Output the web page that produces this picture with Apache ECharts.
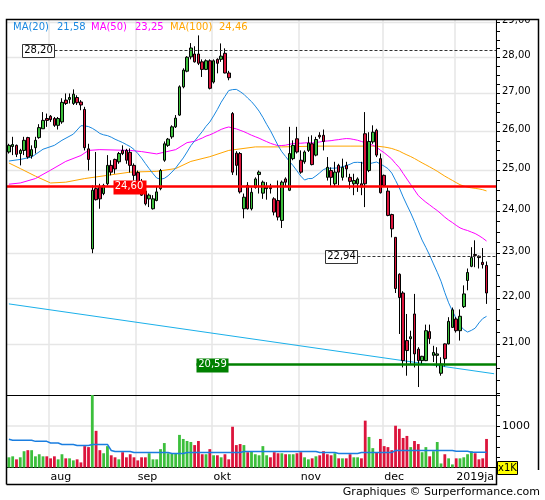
<!DOCTYPE html>
<html><head><meta charset="utf-8">
<script src="https://cdn.jsdelivr.net/npm/echarts@6/dist/echarts.min.js"></script>
<style>html,body{margin:0;padding:0;background:#fff}#c{width:545px;height:500px}</style>
</head><body><div id="c"></div>
<script>
// ---------- data ----------
const startDate = '2018-07-17';
const holidays = ['2018-12-25', '2018-12-26', '2019-01-01'];
const slotCount = 129;
const monthLabels = {'2018-08':'aug','2018-09':'sep','2018-10':'okt','2018-11':'nov','2018-12':'dec','2019-01':'2019ja'};

// [open, high, low, close]
const ohlc = [
[25.46,25.67,25.42,25.63],[25.60,25.85,25.38,25.65],[25.63,25.65,25.33,25.40],[25.42,25.54,25.12,25.50],[25.50,25.85,25.38,25.76],
[25.83,25.85,25.29,25.33],[25.36,25.63,25.29,25.52],[25.57,25.85,25.42,25.76],[25.83,26.18,25.80,26.09],[26.06,26.50,26.06,26.28],
[26.33,26.46,26.11,26.28],[26.39,26.42,26.24,26.30],[26.33,26.37,26.11,26.15],[26.15,26.37,26.04,26.33],[26.24,26.87,26.19,26.76],
[26.82,27.00,26.69,26.73],[26.84,27.00,26.73,26.89],[26.73,27.11,26.69,26.98],[26.89,26.95,26.69,26.75],[26.77,26.82,26.55,26.69],
[26.57,26.64,25.50,25.57],[25.54,25.67,24.99,25.27],[23.10,24.62,23.00,24.50],[24.54,25.46,24.25,24.27],[24.58,24.66,24.05,24.29],
[24.42,24.66,24.38,24.62],[24.66,25.38,24.62,25.12],[25.12,25.25,24.87,24.95],[25.27,25.29,24.91,25.03],[25.21,25.46,25.16,25.42],
[25.50,25.63,25.38,25.42],[25.50,25.54,25.16,25.25],[25.45,25.55,24.94,25.12],[25.12,25.17,24.74,24.87],[24.94,24.99,24.55,24.69],
[24.70,24.78,24.36,24.38],[24.48,24.54,24.13,24.17],[24.29,24.42,24.09,24.38],[24.05,24.38,24.03,24.29],[24.25,24.58,24.23,24.46],
[24.54,25.03,24.50,24.99],[25.25,25.73,25.21,25.67],[25.63,25.82,25.59,25.79],[25.85,26.15,25.80,26.11],[26.11,26.42,26.08,26.34],
[26.42,27.22,26.40,27.18],[27.18,27.69,27.14,27.64],[27.61,28.03,27.58,28.00],[28.01,28.40,27.94,28.26],[28.09,28.31,27.85,27.87],
[28.09,28.62,27.78,27.83],[27.87,27.94,27.45,27.66],[27.66,27.94,27.64,27.90],[27.90,27.94,27.11,27.14],[27.31,27.94,27.27,27.90],
[27.94,27.97,27.55,27.83],[27.94,28.39,27.87,28.03],[28.11,28.25,27.55,27.56],[27.56,27.62,27.36,27.43],[26.46,26.50,24.88,24.95],
[25.43,25.48,24.87,25.12],[25.42,25.46,24.42,24.46],[24.05,24.42,23.82,24.33],[24.62,24.70,24.03,24.05],[24.05,24.57,24.01,24.45],
[24.57,24.82,24.54,24.78],[24.89,24.99,24.42,24.95],[24.43,24.74,24.29,24.70],[24.54,24.70,24.27,24.58],[24.57,24.66,24.42,24.54],
[24.29,24.33,23.89,23.97],[24.25,24.74,23.77,23.85],[23.77,24.74,23.59,24.70],[24.78,24.82,24.58,24.70],[24.50,26.11,24.48,25.42],
[25.29,25.76,25.25,25.63],[25.80,26.11,25.42,25.46],[25.25,25.50,24.91,24.95],[25.21,25.50,25.16,25.46],[25.50,25.85,25.46,25.69],
[25.67,25.89,25.12,25.14],[25.38,25.85,25.35,25.78],[25.89,25.97,25.80,25.85],[25.89,26.04,25.50,25.73],[24.82,25.33,24.74,25.07],
[24.99,25.07,24.58,24.82],[24.66,25.21,24.58,24.95],[25.12,25.16,24.62,24.95],[24.82,25.29,24.74,25.07],[25.12,25.21,24.82,25.03],
[24.82,24.91,24.54,24.72],[24.66,24.91,24.38,24.74],[24.66,24.82,24.46,24.78],[24.66,25.21,24.38,24.58],[25.93,26.50,24.09,24.66],
[24.99,25.97,24.95,25.73],[25.72,26.15,25.67,25.97],[26.02,26.06,25.33,25.38],[25.29,25.42,24.42,24.44],[24.87,24.89,24.58,24.62],
[24.48,24.57,23.87,23.89],[23.91,23.93,23.37,23.57],[23.37,23.37,22.10,22.20],[22.52,22.54,21.21,22.00],[22.10,22.14,20.51,20.65],
[21.07,21.64,20.34,20.86],[21.11,21.28,20.58,21.15],[21.64,22.08,20.51,20.79],[20.89,20.93,20.11,20.65],[20.65,20.75,20.58,20.74],
[20.65,21.41,20.64,21.28],[21.26,21.41,21.00,21.11],[20.76,20.96,20.62,20.82],[20.76,20.93,20.51,20.79],[20.39,20.72,20.34,20.58],
[21.00,21.01,20.53,20.69],[21.00,21.57,20.99,21.48],[21.35,21.78,21.34,21.73],[21.53,21.57,21.24,21.28],[21.28,21.74,21.07,21.59],
[21.80,22.27,21.77,22.08],[22.38,22.65,22.16,22.56],[22.70,23.14,22.68,22.90],[22.97,23.30,22.68,22.95],[22.93,22.95,22.65,22.90],
[22.79,23.12,22.65,22.74],[22.72,22.81,21.86,22.10]
];

// volume in thousands
const volumes = [
246,270,197,246,393,418,418,270,320,270, 270,221,270,197,320,221,221,172,197,123,
516,492,1900,885,418,344,516,295,246,197, 369,246,320,246,172,246,246,344,197,197,
443,590,344,344,344,787,689,639,615,541, 639,320,320,443,295,295,246,320,197,984,
541,566,541,369,393,320,295,516,295,246, 369,344,344,320,320,320,344,369,246,197,
221,270,295,393,320,295,344,221,221,221, 320,246,246,221,1131,738,467,369,689,516,
492,418,1008,934,713,762,492,639,566,369, 492,270,393,615,98,320,221,74,221,221,
246,320,393,344,197,221,689
];
const volUp = [
1,1,0,1,1,0,1,1,1,1, 0,0,0,1,1,0,1,1,0,0, 0,0,1,0,0,1,1,0,0,1, 0,0,0,0,0,0,0,1,1,1,
1,1,1,1,1,1,1,1,1,0, 0,0,1,0,1,0,1,0,0,0, 0,0,1,0,1,1,1,1,1,0, 0,0,1,0,1,1,0,0,1,1,
0,1,0,0,0,0,1,0,1,0, 0,1,1,0,0,1,1,0,0,0, 0,0,0,0,0,0,1,0,0,1, 1,0,1,1,1,0,1,1,0,1,
1,1,1,0,0,0,0
];
const volAvg = [
680,656,656,656,656,656,656,631,631,631, 631,590,590,590,557,557,557,557,533,533,
533,533,557,557,557,557,557,410,385,385, 385,385,385,361,361,361,361,361,361,361,
361,361,361,336,336,336,336,361,361,361, 361,361,361,361,361,361,361,361,361,361,
361,361,385,385,385,385,385,385,385,385, 385,385,385,385,385,385,385,385,385,385,
385,385,361,361,361,361,361,336,336,336, 336,336,336,361,361,361,361,361,361,361,
361,361,410,410,410,410,410,410,410,410, 410,410,410,410,410,410,410,410,393,393,
393,393,369,369,369,369,369
];

const ma20Early = [[0,25.23],[3,25.27],[6,25.33],[9,25.53],[12,25.63],[14,25.76],[17,25.92]];
const ma50Early = [[0,24.65],[3,24.68],[7,24.79],[11,25.00],[15,25.22],[19,25.37],[21,25.50],[24,25.52],[32,25.50],[35,25.47],[39,25.41],[44,25.52],[47,25.70]];
const ma100Early = [[0,25.18],[3,25.04],[7,24.85],[11,24.68],[15,24.70],[20,24.79],[26,24.87],[32,24.95],[39,24.97],[44,25.04],[48,25.22],[53,25.34],[58,25.50],[65,25.59],[72,25.59],[81,25.61],[90,25.61],[97,25.61]];
const maLegend = [['MA(20)','21,58'],['MA(50)','23,25'],['MA(100)','24,46']];

const trendEnds = [21.86, 20.38];
const levels = [28.20, 24.60, 22.94, 20.59];
const levelLabels = ['28,20', '24,60', '22,94', '20,59'];

const priceTicks = [21, 22, 23, 24, 25, 26, 27, 28, 29];
const priceTickLabels = ['21,00','22,00','23,00','24,00','25,00','26,00','27,00','28,00','29,00'];
const volTickLabel = {1000: '1000'};

// ---------- build ----------
function tradingDays(start, n) {
  const out = []; const d = new Date(start + 'T00:00:00Z');
  while (out.length < n) {
    const dow = d.getUTCDay(); const s = d.toISOString().slice(0, 10);
    if (dow !== 0 && dow !== 6 && holidays.indexOf(s) < 0) out.push(s);
    d.setUTCDate(d.getUTCDate() + 1);
  }
  return out;
}
const dates = tradingDays(startDate, slotCount);
const isMonthStart = i => i > 0 && dates[i].slice(0, 7) !== dates[i - 1].slice(0, 7);
const closes = ohlc.map(r => r[3]);

function sma(n, early) {
  const out = new Array(slotCount).fill(null);
  early.forEach(([i, v]) => { out[i] = v; });
  for (let i = n - 1; i < closes.length; i++) {
    let s = 0; for (let k = i - n + 1; k <= i; k++) s += closes[k];
    out[i] = s / n;
  }
  return out;
}
const ma20 = sma(20, ma20Early), ma50 = sma(50, ma50Early), ma100 = sma(100, ma100Early);
const trend = new Array(slotCount).fill(null); trend[0] = trendEnds[0]; trend[slotCount - 1] = trendEnds[1];

const UP = '#3cbf3c', DOWN = '#dc143c';
const FONT = '"DejaVu Sans", Verdana, sans-serif';

const minorTicks = [];
for (let q = 80; q <= 116; q++) minorTicks.push(q / 4);

const levelStyle = [
  {color:'#333', lw:1, dash:[3,2], line:'right', box:0.0644, bw:32, bh:13, fill:'#fff', stroke:'#333', text:'#000'},
  {color:'#ff0000', lw:2.5, dash:null, line:'full', box:0.2495, bw:33, bh:14, fill:'#ff0000', stroke:null, text:'#fff'},
  {color:'#333', lw:1, dash:[3,2], line:'right', box:0.684, bw:32, bh:13, fill:'#fff', stroke:'#333', text:'#000'},
  {color:'#008000', lw:2.5, dash:null, line:'left', box:0.4202, bw:32, bh:14, fill:'#008000', stroke:null, text:'#fff'}
];

const chart = echarts.init(document.getElementById('c'), null, {renderer: 'canvas'});
const gridLineColor = '#e6e6e6';

const option = {
  animation: false,
  backgroundColor: '#fff',
  grid: [
    {left: 7, top: 19.5, width: 489, height: 375.5, outerBoundsMode: 'none', containLabel: false},
    {left: 7, top: 395, width: 489, height: 72.5, outerBoundsMode: 'none', containLabel: false}
  ],
  xAxis: [
    {type: 'category', gridIndex: 0, data: dates, boundaryGap: true,
     axisLine: {show: true, onZero: false, lineStyle: {color: '#000', width: 1}},
     axisTick: {show: false}, axisLabel: {show: false},
     splitLine: {show: true, interval: (i) => isMonthStart(i), lineStyle: {color: gridLineColor, width: 1.5}}},
    {type: 'category', gridIndex: 1, data: dates, boundaryGap: true,
     axisLine: {show: true, onZero: false, lineStyle: {color: '#000', width: 1}},
     axisTick: {show: false},
     axisLabel: {show: true, interval: (i) => isMonthStart(i), formatter: (v) => monthLabels[v.slice(0, 7)] || '',
       align: 'left', color: '#000', fontSize: 11, fontFamily: FONT, margin: 4},
     splitLine: {show: true, interval: (i) => isMonthStart(i), lineStyle: {color: gridLineColor, width: 1.5}}}
  ],
  yAxis: [
    {type: 'log', logBase: 10, gridIndex: 0, position: 'right', min: 19.95, max: 29.08,
     axisLine: {show: true, lineStyle: {color: '#000', width: 1}},
     axisTick: {show: false}, axisLabel: {show: false}, splitLine: {show: false}, minorSplitLine: {show: false}},
    {type: 'value', gridIndex: 1, position: 'right', min: 0, max: 1750, interval: 250,
     axisLine: {show: true, lineStyle: {color: '#000', width: 1}},
     axisTick: {show: true, inside: false, length: 4, lineStyle: {color: '#000'}},
     axisLabel: {show: true, formatter: (v) => volTickLabel[v] || '', color: '#000', fontSize: 11, fontFamily: FONT, margin: 6},
     splitLine: {show: true, lineStyle: {color: ['rgba(0,0,0,0)','rgba(0,0,0,0)','rgba(0,0,0,0)','rgba(0,0,0,0)', gridLineColor,'rgba(0,0,0,0)','rgba(0,0,0,0)','rgba(0,0,0,0)'], width: 1.5}}}
  ],
  series: [
    // price grid lines, ticks and labels
    {type: 'custom', name: 'priceAxis', xAxisIndex: 0, yAxisIndex: 0, clip: false, silent: true, z: 1,
     encode: {x: 0, y: 1},
     data: priceTicks.map((v, i) => [0, v, i]),
     renderItem: (params, api) => {
       const cs = params.coordSys; const v = api.value(1); const i = api.value(2);
       const y = Math.round(api.coord([0, v])[1]) + 0.5;
       const right = cs.x + cs.width;
       const ch = [];
       if (y > cs.y + 1 && y < cs.y + cs.height - 1)
         ch.push({type: 'line', shape: {x1: cs.x, y1: y, x2: right, y2: y}, style: {stroke: gridLineColor, lineWidth: 1.5}});
       ch.push({type: 'text', x: right + 6, y: y - 2, style: {text: priceTickLabels[i], fill: '#000', font: '10px ' + FONT, align: 'left', verticalAlign: 'middle'}});
       return {type: 'group', children: ch};
     }},
    {type: 'custom', name: 'priceTicks', xAxisIndex: 0, yAxisIndex: 0, clip: false, silent: true, z: 5,
     encode: {x: 0, y: 1},
     data: minorTicks.map(v => [0, v]),
     renderItem: (params, api) => {
       const cs = params.coordSys; const y = Math.round(api.coord([0, api.value(1)])[1]) + 0.5;
       const right = cs.x + cs.width;
       return {type: 'line', shape: {x1: right, y1: y, x2: right + 4, y2: y}, style: {stroke: '#000', lineWidth: 1}};
     }},
    {type: 'line', name: 'trend', xAxisIndex: 0, yAxisIndex: 0, data: trend, connectNulls: true, showSymbol: false, symbol: 'none',
     lineStyle: {color: '#1ab0ea', width: 1}, z: 2, silent: true},
    {type: 'line', name: 'MA100', xAxisIndex: 0, yAxisIndex: 0, data: ma100, connectNulls: true, showSymbol: false, symbol: 'none',
     lineStyle: {color: '#ffa500', width: 1}, z: 2, silent: true},
    {type: 'line', name: 'MA50', xAxisIndex: 0, yAxisIndex: 0, data: ma50, connectNulls: true, showSymbol: false, symbol: 'none',
     lineStyle: {color: '#ff00ff', width: 1}, z: 2, silent: true},
    {type: 'line', name: 'MA20', xAxisIndex: 0, yAxisIndex: 0, data: ma20, connectNulls: true, showSymbol: false, symbol: 'none',
     lineStyle: {color: '#1a88e0', width: 1}, z: 2, silent: true},
    {type: 'candlestick', name: 'price', xAxisIndex: 0, yAxisIndex: 0, z: 3, barWidth: 3,
     data: ohlc.map(r => [r[0], r[3], r[2], r[1]]),
     itemStyle: {color: UP, color0: DOWN, borderColor: '#000', borderColor0: '#000', borderWidth: 1}},
    {type: 'custom', name: 'levels', xAxisIndex: 0, yAxisIndex: 0, clip: false, silent: true, z: 6,
     encode: {x: 0, y: 1},
     data: levels.map((v, i) => [0, v, i]),
     renderItem: (params, api) => {
       const cs = params.coordSys; const v = api.value(1); const i = api.value(2); const st = levelStyle[i];
       const y0 = api.coord([0, v])[1];
       const y = st.lw % 2 ? Math.round(y0) + 0.5 : Math.round(y0);
       const bx = cs.x + st.box * cs.width;
       const from = st.line === 'right' ? bx + st.bw / 2 : (st.line === 'left' ? bx - st.bw / 2 : cs.x);
       return {type: 'group', children: [
         {type: 'line', shape: {x1: from, y1: y, x2: cs.x + cs.width, y2: y}, style: {stroke: st.color, lineWidth: st.lw, lineDash: st.dash}},
         {type: 'rect', shape: {x: Math.round(bx - st.bw / 2) + 0.5, y: Math.round(y - st.bh / 2) + 0.5, width: st.bw, height: st.bh},
          style: {fill: st.fill, stroke: st.stroke, lineWidth: 1}},
         {type: 'text', x: bx, y: y, style: {text: levelLabels[i], fill: st.text, font: '10px ' + FONT, align: 'center', verticalAlign: 'middle'}}
       ]};
     }},
    {type: 'bar', name: 'volume', xAxisIndex: 1, yAxisIndex: 1, barWidth: '74%', z: 2,
     data: volumes.map((v, i) => ({value: v, itemStyle: {color: volUp[i] ? UP : DOWN}}))},
    {type: 'line', name: 'volAvg', xAxisIndex: 1, yAxisIndex: 1, data: volAvg, showSymbol: false, symbol: 'none',
     lineStyle: {color: '#1a7ee0', width: 1.5}, z: 3, silent: true}
  ],
  graphic: [
    {type: 'rect', z: 100, shape: {x: 497, y: 0, width: 48, height: 19}, style: {fill: '#fff'}},
    {type: 'polyline', z: 101, shape: {points: [[6.5, 484.5], [6.5, 19.5], [538.5, 19.5], [538.5, 470]]}, style: {stroke: '#000', lineWidth: 1.5, fill: null}},
    {type: 'polyline', z: 101, shape: {points: [[6.5, 484.5], [496.5, 484.5], [496.5, 467]]}, style: {stroke: '#000', lineWidth: 1.5, fill: null}},
    {type: 'rect', z: 101, shape: {x: 497.5, y: 461.5, width: 20, height: 13}, style: {fill: '#ffff00', stroke: '#000', lineWidth: 1}},
    {type: 'text', z: 102, x: 507.5, y: 468, style: {text: 'x1K', fill: '#000', font: '10px ' + FONT, align: 'center', verticalAlign: 'middle'}},
    {type: 'text', z: 102, x: 13, y: 27, style: {text: maLegend[0][0], fill: '#1a88e0', font: '10px ' + FONT, verticalAlign: 'middle'}},
    {type: 'text', z: 102, x: 57, y: 27, style: {text: maLegend[0][1], fill: '#1a88e0', font: '10px ' + FONT, verticalAlign: 'middle'}},
    {type: 'text', z: 102, x: 91, y: 27, style: {text: maLegend[1][0], fill: '#ff00ff', font: '10px ' + FONT, verticalAlign: 'middle'}},
    {type: 'text', z: 102, x: 135, y: 27, style: {text: maLegend[1][1], fill: '#ff00ff', font: '10px ' + FONT, verticalAlign: 'middle'}},
    {type: 'text', z: 102, x: 170, y: 27, style: {text: maLegend[2][0], fill: '#ffa500', font: '10px ' + FONT, verticalAlign: 'middle'}},
    {type: 'text', z: 102, x: 219, y: 27, style: {text: maLegend[2][1], fill: '#ffa500', font: '10px ' + FONT, verticalAlign: 'middle'}},
    {type: 'text', z: 102, x: 540, y: 492, style: {text: 'Graphiques © Surperformance.com', fill: '#000', font: '11px ' + FONT, align: 'right', verticalAlign: 'middle'}}
  ]
};
chart.setOption(option);
</script>
</body></html>
